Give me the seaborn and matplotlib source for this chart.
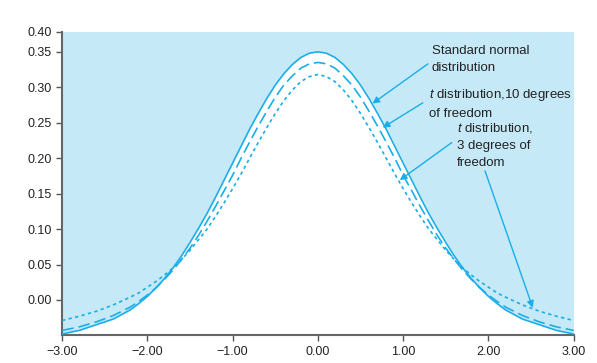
import numpy as np
import pandas as pd
import seaborn as sns
import matplotlib.pyplot as plt

# x positions of the read-off points (right half; the chart is symmetric)
x_half = [0.0, 0.1, 0.2, 0.3, 0.4, 0.5, 0.6, 0.7, 0.8, 0.9, 1.0, 1.1, 1.2, 1.3,
          1.4, 1.5, 1.6, 1.7, 1.8, 1.9, 2.0, 2.1, 2.2, 2.4, 2.6, 2.8, 3.0]

# values (curves sit shifted below zero)
normal_half = [0.350, 0.348, 0.342, 0.332, 0.319, 0.303, 0.284, 0.263, 0.241, 0.217, 0.193,
               0.169, 0.145, 0.122, 0.101, 0.081, 0.062, 0.045, 0.030, 0.017, 0.005,
               -0.005, -0.014, -0.027, -0.035, -0.043, -0.048]
t10_half = [0.335, 0.333, 0.327, 0.316, 0.303, 0.286, 0.266, 0.245, 0.223, 0.200, 0.176,
            0.154, 0.132, 0.111, 0.091, 0.073, 0.057, 0.042, 0.029, 0.017, 0.007,
            -0.002, -0.010, -0.022, -0.031, -0.038, -0.043]
t3_half = [0.318, 0.315, 0.308, 0.296, 0.281, 0.263, 0.243, 0.222, 0.200, 0.178, 0.157,
           0.137, 0.118, 0.100, 0.085, 0.070, 0.057, 0.045, 0.035, 0.026, 0.018,
           0.010, 0.004, -0.007, -0.016, -0.023, -0.029]

xtick_vals = [-3, -2, -1, 0, 1, 2, 3]
xtick_labels = ['\u22123.00', '\u22122.00', '\u22121.00', '0.00', '1.00', '2.00', '3.00']
ytick_vals = [0.0, 0.05, 0.10, 0.15, 0.20, 0.25, 0.30, 0.35, 0.378]
ytick_labels = ['0.00', '0.05', '0.10', '0.15', '0.20', '0.25', '0.30', '0.35', '0.40']

sns.set_style('ticks')
plt.rcParams['font.family'] = ['Liberation Sans', 'DejaVu Sans']
plt.rcParams['mathtext.fontset'] = 'custom'
plt.rcParams['mathtext.it'] = 'Liberation Sans:italic'
plt.rcParams['mathtext.rm'] = 'Liberation Sans'

blue = '#1aaee8'
bg = '#c6e9f8'


def mirror(vals):
    return vals[:0:-1] + vals


df = pd.DataFrame({
    'x': [-v for v in x_half[:0:-1]] + x_half,
    'normal': mirror(normal_half),
    't10': mirror(t10_half),
    't3': mirror(t3_half),
})

fig = plt.figure(figsize=(5.97, 3.63), dpi=100)
ax = fig.add_axes([0.104, 0.076, 0.857, 0.836])
ax.set_facecolor(bg)

ax.fill_between(df['x'], df['normal'], -0.06, color='white', zorder=1)
sns.lineplot(data=df, x='x', y='normal', ax=ax, color=blue, lw=1.2, zorder=3)
sns.lineplot(data=df, x='x', y='t10', ax=ax, color=blue, lw=1.2, zorder=3,
             linestyle=(0, (7, 3)))
sns.lineplot(data=df, x='x', y='t3', ax=ax, color=blue, lw=1.2, zorder=3,
             linestyle=(0, (2, 2)))

ax.set_xlim(-3, 3)
ax.set_ylim(-0.05, 0.378)
ax.set_xticks(xtick_vals)
ax.set_xticklabels(xtick_labels)
ax.set_yticks(ytick_vals)
ax.set_yticklabels(ytick_labels)
ax.set_xlabel('')
ax.set_ylabel('')
ax.tick_params(labelsize=9, colors='#555555', labelcolor='#222222', length=4, width=1)
for s in ['top', 'right']:
    ax.spines[s].set_visible(False)
for s in ['left', 'bottom']:
    ax.spines[s].set_color('#666666')
    ax.spines[s].set_linewidth(1.5)

arrow = dict(arrowstyle='-|>', color=blue, lw=1, mutation_scale=10, shrinkA=0, shrinkB=0)
tkw = dict(fontsize=9.5, color='#222222', ha='left', va='top', linespacing=1.55)

ax.text(1.336, 0.360, 'Standard normal\ndistribution', **tkw)
ax.annotate('', xy=(0.64, 0.277), xytext=(1.29, 0.333), arrowprops=arrow)

ax.text(1.30, 0.300, '$\\it{t}$ distribution,10 degrees\nof freedom', **tkw)
ax.annotate('', xy=(0.76, 0.243), xytext=(1.23, 0.278), arrowprops=arrow)

ax.text(1.63, 0.252, '$\\it{t}$ distribution,\n3 degrees of\nfreedom', **tkw)
ax.annotate('', xy=(0.96, 0.169), xytext=(1.57, 0.222), arrowprops=arrow)
ax.annotate('', xy=(2.52, -0.011), xytext=(1.96, 0.182), arrowprops=arrow)

fig.savefig('out.png', dpi=100)
